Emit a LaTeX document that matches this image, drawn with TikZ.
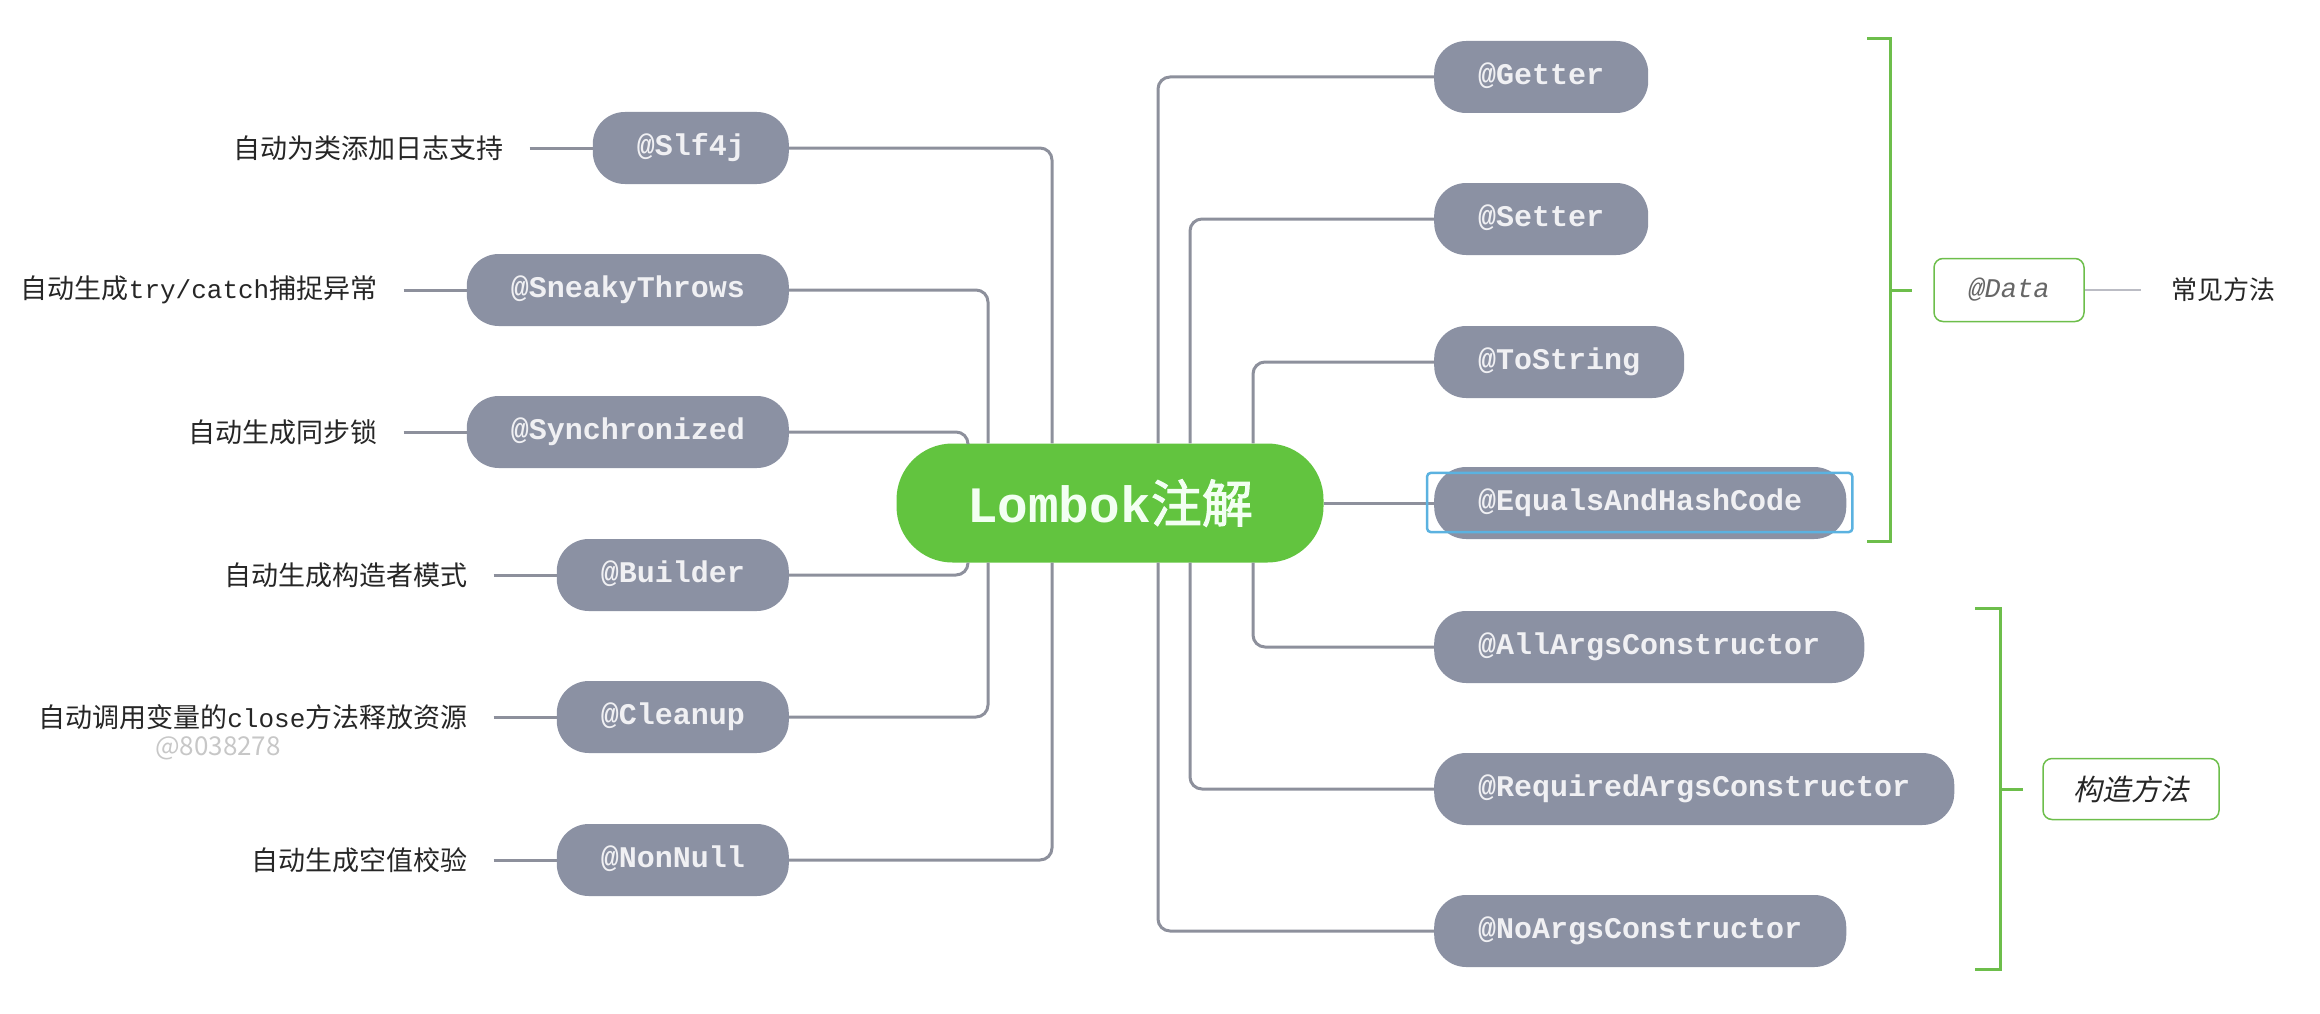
\documentclass[tikz,border=0pt]{standalone}
\usepackage{fontspec}
\setmonofont{Liberation Mono}
\newfontfamily\cjk{Noto Sans CJK SC}[AutoFakeBold=2]
\newfontfamily\cjkit{Noto Sans CJK SC}[FakeSlant=0.2]
\usepackage{tikz}
\definecolor{annofill}{HTML}{8B91A3}
\definecolor{annotext}{HTML}{F0F0F3}
\definecolor{rootfill}{HTML}{62C43F}
\definecolor{linkgray}{HTML}{8D909C}
\definecolor{bracegreen}{HTML}{6DBE4B}
\definecolor{pickblue}{HTML}{5BB2E0}
\tikzset{
	anno/.style={fill=annofill,text=annotext,rounded corners=32pt,minimum height=72pt,inner xsep=44pt,
		text height=20pt,text depth=5pt,font=\fontsize{30}{34}\selectfont\ttfamily\bfseries},
	note/.style={inner sep=0pt,text=black!85,font=\fontsize{27}{32}\selectfont\cjk},
	link/.style={draw=linkgray,line width=3pt,rounded corners=12pt},
	brace/.style={draw=bracegreen,line width=3pt},
	group/.style={draw=bracegreen,line width=1.5pt,fill=white,rounded corners=9pt}
}
\newcommand{\branch}[3]{\draw[link] (#1) -| ([xshift=#3]lombok.#2);}
\newcommand{\note}[2]{\node[note,anchor=east](#1t) at ([xshift=-89pt]#1.west) {#2};
	\draw[link] ([xshift=26pt]#1t.east) -- (#1.west);}

\begin{document}
\begin{tikzpicture}[x=1pt,y=-1pt]
			\useasboundingbox (0,0) rectangle (2320,1014);
			\node[fill=rootfill,text=white!95!green,rounded corners=56pt,minimum width=427pt,minimum height=119pt,
				font=\fontsize{51}{56}\selectfont\cjk\bfseries](lombok) at (1110,503) {{\ttfamily Lombok}注解};
			
			\node[anno,anchor=east](slf) at (789,148) {@Slf4j};
			\node[anno,anchor=east](sneaky) at (789,290) {@SneakyThrows};
			\node[anno,anchor=east](sync) at (789,432) {@Synchronized};
			\node[anno,anchor=east](builder) at (789,575) {@Builder};
			\node[anno,anchor=east](cleanup) at (789,717) {@Cleanup};
			\node[anno,anchor=east](nonnull) at (789,860) {@NonNull};
			
			\node[anno,anchor=west](getter) at (1434,77) {@Getter};
			\node[anno,anchor=west](setter) at (1434,219) {@Setter};
			\node[anno,anchor=west](tostring) at (1434,362) {@ToString};
			\node[anno,anchor=west](equals) at (1434,503) {@EqualsAndHashCode};
			\node[anno,anchor=west](allargs) at (1434,647) {@AllArgsConstructor};
			\node[anno,anchor=west](reqargs) at (1434,789) {@RequiredArgsConstructor};
			\node[anno,anchor=west](noargs) at (1434,931) {@NoArgsConstructor};
			
			\note{slf}{自动为类添加日志支持}
			\note{sneaky}{自动生成{\ttfamily\fontsize{26}{30}\selectfont try/catch}捕捉异常}
			\note{sync}{自动生成同步锁}
			\note{builder}{自动生成构造者模式}
			\note{cleanup}{自动调用变量的{\ttfamily\fontsize{26}{30}\selectfont close}方法释放资源}
			\note{nonnull}{自动生成空值校验}
			\node[text=black!22,font=\fontsize{26}{30}\selectfont\cjk](mark) at (218,748) {@8038278};
			
			\branch{slf.east}{north}{-58pt}
			\branch{sneaky.east}{north}{-122pt}
			\branch{sync.east}{north}{-142pt}
			\branch{builder.east}{south}{-142pt}
			\branch{cleanup.east}{south}{-122pt}
			\branch{nonnull.east}{south}{-58pt}
			\branch{getter.west}{north}{48pt}
			\branch{setter.west}{north}{80pt}
			\branch{tostring.west}{north}{143pt}
			\branch{allargs.west}{south}{143pt}
			\branch{reqargs.west}{south}{80pt}
			\branch{noargs.west}{south}{48pt}
			\draw[link] (lombok.east) -- (equals.west);
			\draw[draw=pickblue,line width=2.5pt,rounded corners=4pt] ([shift={(-7pt,-6pt)}]equals.north west) rectangle ([shift={(6pt,7pt)}]equals.south east);
			
			\draw[brace] (1867,39) -- (1890,39) -- (1890,541) -- (1867,541);
			\draw[brace] (1890,290) -- (1912,290);
			\node[group,minimum width=150pt,minimum height=63pt,text=black!60,font=\fontsize{27}{32}\selectfont\ttfamily\itshape](data) at (2009,290) {@Data};
			\node[note,anchor=west,font=\fontsize{26}{30}\selectfont\cjk](common) at (2171,290) {常见方法};
			\draw[link,draw=linkgray!60,line width=2.5pt] (data.east) -- ([xshift=-30pt]common.west);
			
			\draw[brace] (1975,608) -- (2000,608) -- (2000,969) -- (1975,969);
			\draw[brace] (2000,789) -- (2023,789);
			\node[group,minimum width=176pt,minimum height=61pt,text=black!85,font=\fontsize{29}{34}\selectfont\cjkit](ctor) at (2131,789) {构造方法};
		\end{tikzpicture}
\end{document}
